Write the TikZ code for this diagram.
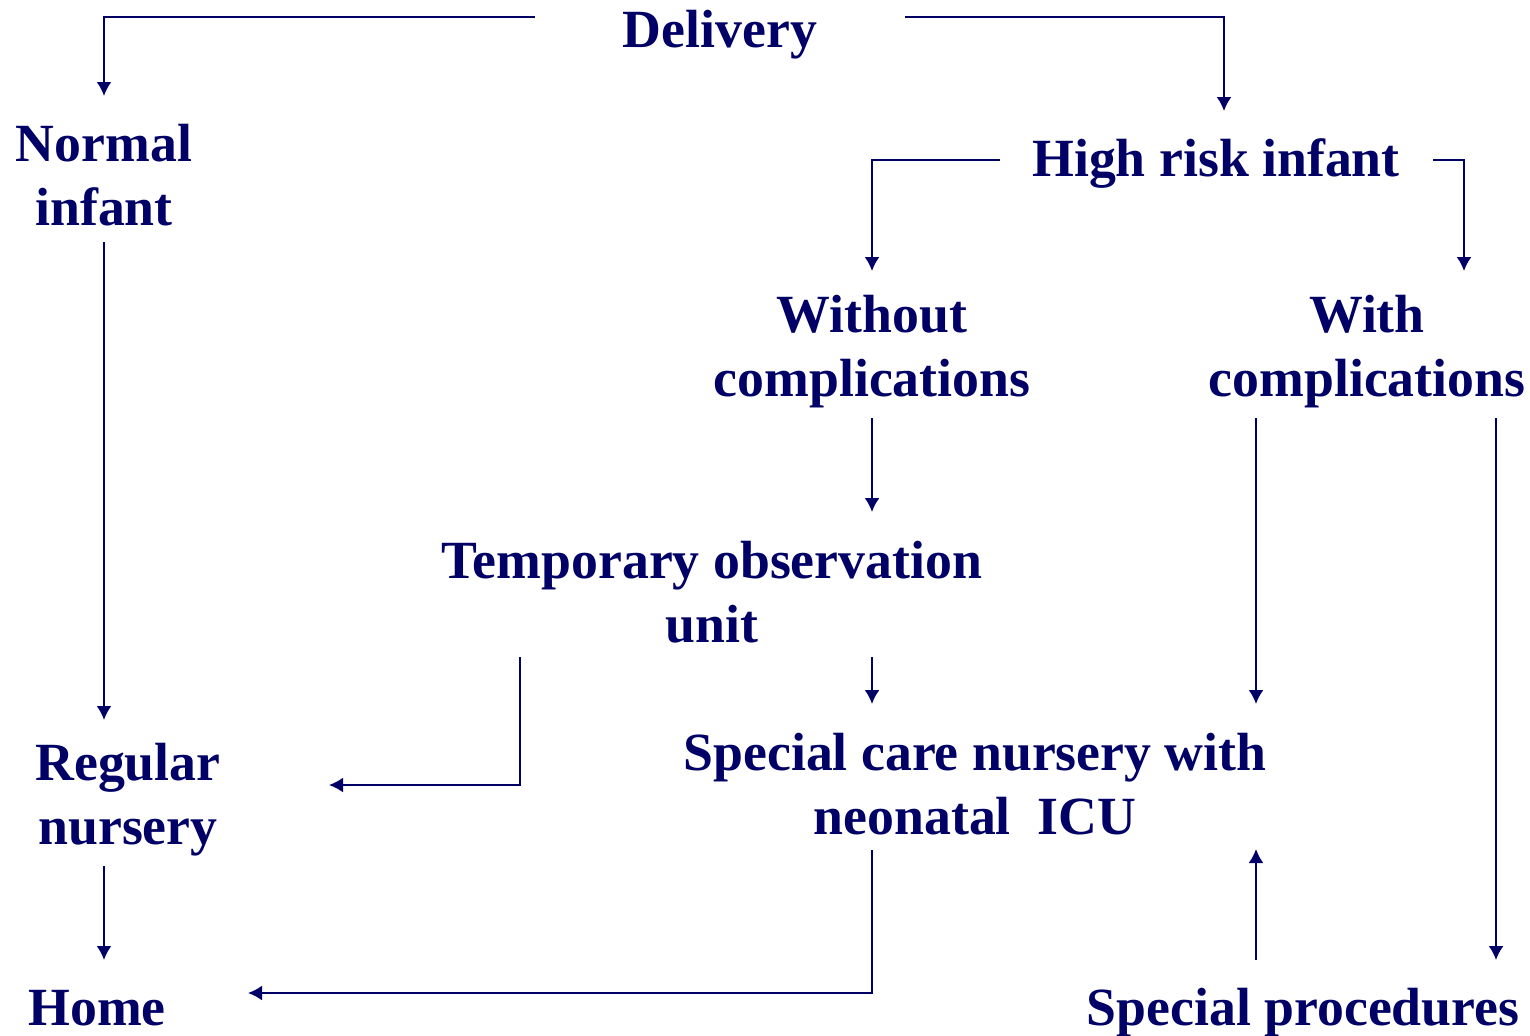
\documentclass[tikz,border=0pt]{standalone}
\usepackage{fontspec}
\setmainfont{Liberation Serif}
\usetikzlibrary{arrows.meta}
\definecolor{navy}{RGB}{0,0,102}
\tikzset{
	label/.style = {align=center, inner sep=0pt, text=navy, font=\bfseries\fontsize{30.6}{36.4}\selectfont},
	link/.style = {draw=navy, line width=0.04cm, -{Latex[length=0.28cm, width=0.3cm]}}
}
\begin{document}
\begin{tikzpicture}[x = 0.02cm, y = -0.02cm]
			\useasboundingbox (0, 0) rectangle (1530, 1035);
			
			\node[label] (deliv) at (720, 35) {Delivery};
			\node[label] (normal) at (104, 175) {Normal\\infant};
			\node[label] (highrisk) at (1216, 163) {High risk infant};
			\node[label] (without) at (872, 352) {Without\\complications};
			\node[label] (with) at (1367, 352) {With\\complications};
			\node[label] (temp) at (712, 592) {Temporary observation\\unit};
			\node[label] (special) at (975, 784) {Special care nursery with\\neonatal\ \ ICU};
			\node[label] (regular) at (128, 800) {Regular\\nursery};
			\node[label, anchor=base] (home) at (97, 1025) {Home};
			\node[label, anchor=base] (proc) at (1303, 1025) {Special procedures};
			
			% free ends of the connectors
			\coordinate (d1) at (535, 17);
			\coordinate (d2) at (905, 17);
			\coordinate (n1) at (104, 96);
			\coordinate (h0) at (1224, 111);
			\coordinate (h1) at (1000, 160);
			\coordinate (h2) at (1433, 160);
			\coordinate (wo0) at (872, 271);
			\coordinate (wi0) at (1464, 271);
			\coordinate (n2) at (104, 242);
			\coordinate (r0) at (104, 720);
			\coordinate (wo1) at (872, 418);
			\coordinate (t0) at (872, 512);
			\coordinate (wi1) at (1256, 418);
			\coordinate (wi2) at (1496, 418);
			\coordinate (s0) at (1256, 704);
			\coordinate (p0) at (1496, 960);
			\coordinate (t1) at (520, 657);
			\coordinate (r1) at (329, 785);
			\coordinate (t2) at (872, 657);
			\coordinate (s1) at (872, 704);
			\coordinate (r2) at (104, 866);
			\coordinate (hm0) at (104, 960);
			\coordinate (s2) at (872, 850);
			\coordinate (hm1) at (248, 993);
			\coordinate (p1) at (1256, 960);
			\coordinate (s3) at (1256, 849);
			
			\draw[link] (d1) -| (n1);
			\draw[link] (d2) -| (h0);
			\draw[link] (h1) -| (wo0);
			\draw[link] (h2) -| (wi0);
			\draw[link] (n2) -- (r0);
			\draw[link] (wo1) -- (t0);
			\draw[link] (wi1) -- (s0);
			\draw[link] (wi2) -- (p0);
			\draw[link] (t1) |- (r1);
			\draw[link] (t2) -- (s1);
			\draw[link] (r2) -- (hm0);
			\draw[link] (s2) |- (hm1);
			\draw[link] (p1) -- (s3);
		\end{tikzpicture}
\end{document}
